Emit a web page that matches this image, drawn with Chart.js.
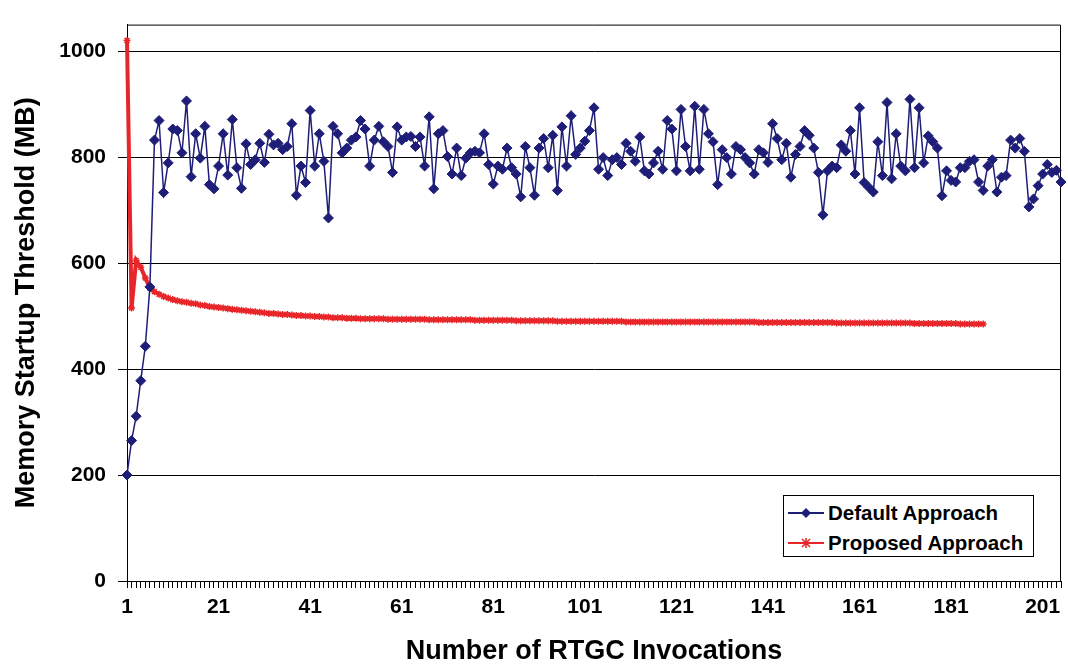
<!DOCTYPE html>
<html>
<head>
<meta charset="utf-8">
<script src="https://cdn.jsdelivr.net/npm/chart.js@4/dist/chart.umd.min.js"></script>
<style>
html,body{margin:0;padding:0;background:#fff;}
#wrap{position:relative;width:1068px;height:668px;overflow:hidden;}
canvas{display:block;}
#legend{position:absolute;left:783px;top:495px;width:249px;height:60px;border:1px solid #000;background:#fff;
  font:bold 20.5px "Liberation Sans",Arial,sans-serif;color:#000;}
.row{position:absolute;left:4px;height:26px;display:flex;align-items:center;white-space:nowrap;}
.row svg{margin-right:4px;}
</style>
</head>
<body>
<div id="wrap">
<canvas id="c" width="1068" height="668"></canvas>
<div id="legend">
  <div class="row" style="top:4px;">
    <svg width="36" height="14" viewBox="0 0 36 14"><line x1="0" y1="7" x2="36" y2="7" stroke="#1e1e78" stroke-width="2"/><polygon points="18,2 23,7 18,12 13,7" fill="#1e1e78"/></svg>
    <span>Default Approach</span>
  </div>
  <div class="row" style="top:34px;">
    <svg width="36" height="14" viewBox="0 0 36 14"><line x1="0" y1="7" x2="36" y2="7" stroke="#e8262a" stroke-width="2"/><path d="M14,3 L22,11 M22,3 L14,11 M18,2 L18,12" stroke="#e8262a" stroke-width="1.6"/></svg>
    <span>Proposed Approach</span>
  </div>
</div>
</div>
<script>
// ---- data ----
const invocationCount = 205;
const categories = Array.from({length: invocationCount}, (_, i) => String(i + 1));
const xTickLabels = ['1','21','41','61','81','101','121','141','161','181','201'];
const yTickValues = [0, 200, 400, 600, 800, 1000];

const defaultApproach = [
  200,265,311,378,443,555,832,869,733,789,
  853,850,808,906,763,844,798,858,748,740,
  783,844,766,871,780,741,825,786,795,826,
  790,843,823,826,814,820,863,728,783,752,
  888,783,844,792,685,858,844,808,817,832,
  838,869,853,783,832,858,829,820,771,857,
  832,838,839,820,838,783,876,740,844,850,
  801,768,817,765,798,808,811,808,844,786,
  749,783,777,817,780,768,725,820,780,728,
  817,835,780,841,737,857,783,878,805,817,
  830,850,893,777,799,765,795,799,786,826,
  811,792,838,774,768,789,811,777,869,853,
  774,890,820,774,896,777,890,844,829,748,
  814,799,768,820,814,799,789,768,814,808,
  790,863,835,795,826,762,805,820,850,841,
  817,771,691,774,783,780,823,811,850,768,
  893,752,743,734,829,765,903,759,844,783,
  774,909,780,893,789,840,829,817,727,774,
  756,753,780,780,792,795,753,737,783,795,
  734,762,765,832,817,835,811,706,721,746,
  768,786,771,775,753
];

const proposedApproach = [
  1020,515,605,592,572,553,546,541,537,534,
  531,529,527,526,524,523,521,520,518,517,
  516,515,514,513,512,511,510,509,508,507,
  506,505,505,504,503,503,502,501,501,500,
  500,499,499,498,498,497,497,497,496,496,
  496,495,495,495,495,495,495,494,494,494,
  494,494,494,494,494,494,493,493,493,493,
  493,493,493,493,493,493,492,492,492,492,
  492,492,492,492,492,491,491,491,491,491,
  491,491,491,491,490,490,490,490,490,490,
  490,490,490,490,490,490,490,490,490,489,
  489,489,489,489,489,489,489,489,489,489,
  489,489,489,489,489,489,489,489,489,489,
  489,489,489,489,489,489,489,489,488,488,
  488,488,488,488,488,488,488,488,488,488,
  488,488,488,488,488,487,487,487,487,487,
  487,487,487,487,487,487,487,487,487,487,
  487,487,486,486,486,486,486,486,486,486,
  486,486,485,485,485,485,485,485
];

const FONT = '"Liberation Sans", Arial, sans-serif';
const BLUE = '#1e1e78';
const RED = '#e8262a';

const framePlugin = {
  id: 'frame',
  beforeDatasetsDraw(chart) {
    const {ctx, chartArea: a} = chart;
    ctx.save();
    ctx.strokeStyle = '#000';
    ctx.lineWidth = 1;
    ctx.beginPath();
    ctx.moveTo(a.left, a.top + 0.5);
    ctx.lineTo(a.right - 0.5, a.top + 0.5);
    ctx.lineTo(a.right - 0.5, a.bottom);
    ctx.stroke();
    ctx.restore();
  }
};

new Chart(document.getElementById('c'), {
  type: 'line',
  data: {
    labels: categories,
    datasets: [
      {
        label: 'Default Approach',
        data: defaultApproach,
        borderColor: BLUE,
        backgroundColor: BLUE,
        borderWidth: 1.5,
        pointStyle: 'rectRot',
        pointRadius: 5,
        pointBorderWidth: 1,
        pointBackgroundColor: BLUE,
        pointBorderColor: BLUE,
        tension: 0,
        fill: false
      },
      {
        label: 'Proposed Approach',
        data: proposedApproach,
        borderColor: RED,
        backgroundColor: RED,
        borderWidth: 4,
        pointStyle: 'star',
        pointRadius: 3.5,
        pointBorderWidth: 1.5,
        pointBorderColor: RED,
        pointBackgroundColor: RED,
        tension: 0,
        fill: false
      }
    ]
  },
  options: {
    responsive: false,
    animation: false,
    events: [],
    layout: {padding: {top: 10, right: 6, left: 0, bottom: 0}},
    plugins: {legend: {display: false}, tooltip: {enabled: false}},
    scales: {
      x: {
        type: 'category',
        offset: false,
        grid: {display: true, drawOnChartArea: false, drawTicks: true, tickLength: 7, color: '#000', lineWidth: 1},
        border: {display: true, color: '#000', width: 1},
        ticks: {
          autoSkip: false, maxRotation: 0, minRotation: 0, padding: 7,
          color: '#000', font: {family: FONT, size: 21, weight: 'bold'},
          callback: function (v) {
            const l = this.getLabelForValue(v);
            return xTickLabels.includes(l) ? l : '';
          }
        },
        title: {display: true, text: 'Number of RTGC Invocations', color: '#000',
          font: {family: FONT, size: 27, weight: 'bold'}, padding: {top: 0, bottom: 0}},
        afterFit(s) { s.height = 87; }
      },
      y: {
        min: 0, max: 1050,
        afterBuildTicks(s) { s.ticks = yTickValues.map(v => ({value: v})); },
        grid: {color: '#000', lineWidth: 1, tickLength: 9, drawTicks: true},
        border: {display: true, color: '#000', width: 1},
        ticks: {padding: 12, color: '#000', font: {family: FONT, size: 21, weight: 'bold'},
          callback: v => String(v)},
        title: {display: true, text: 'Memory Startup Threshold (MB)', color: '#000',
          font: {family: FONT, size: 27, weight: 'bold'}, padding: {top: 10, bottom: 0}},
        afterFit(s) { s.width = 127; }
      }
    }
  },
  plugins: [framePlugin]
});
</script>
</body>
</html>
